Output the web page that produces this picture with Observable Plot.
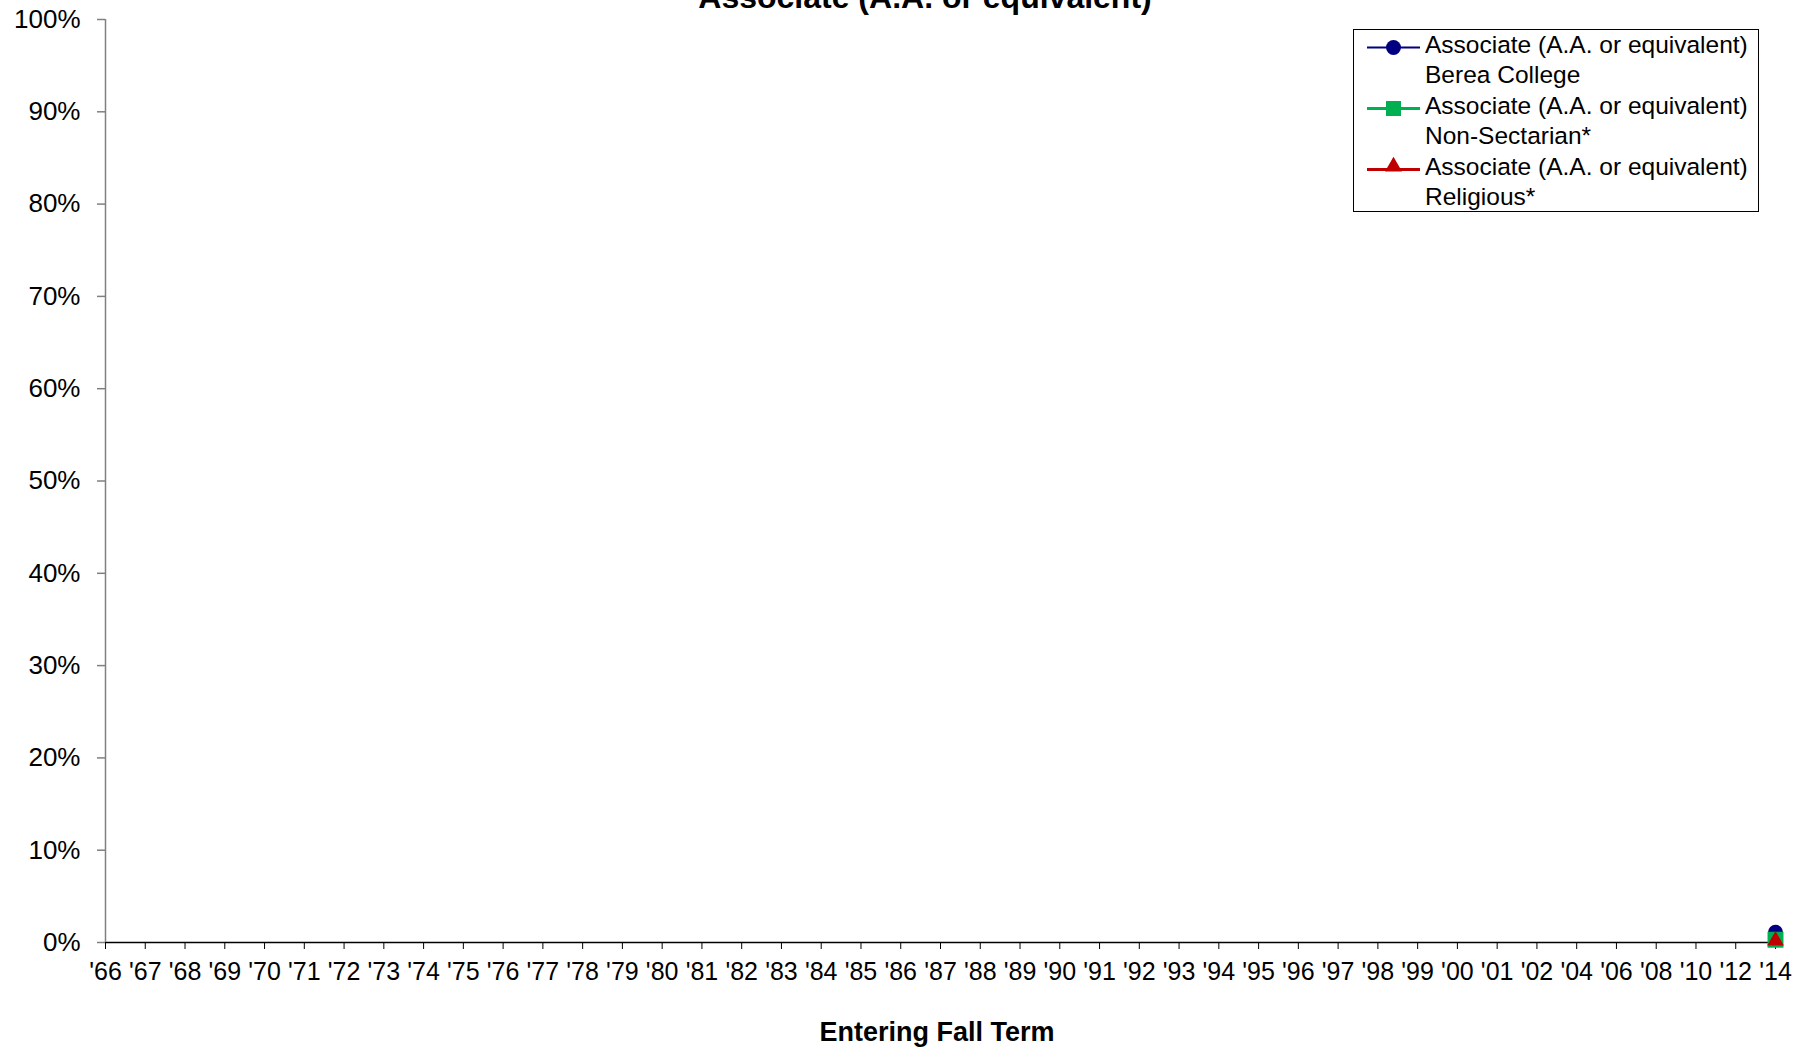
<!DOCTYPE html>
<html>
<head>
<meta charset="utf-8">
<script src="https://cdn.jsdelivr.net/npm/d3@7"></script>
<script src="https://cdn.jsdelivr.net/npm/@observablehq/plot@0.6"></script>
<style>
  html, body { margin: 0; padding: 0; background: #fff; }
  body { font-family: "Liberation Sans", Arial, sans-serif; color: #000; }
  #wrap { position: relative; width: 1812px; height: 1048px; overflow: hidden; }
  #title { position: absolute; left: 0; width: 1850px; top: -19px; text-align: center;
           font-weight: bold; font-size: 32px; line-height: 32px; white-space: nowrap; }
  #xtitle { position: absolute; left: 105px; width: 1664px; top: 1019px; text-align: center;
            font-weight: bold; font-size: 27px; line-height: 27px; white-space: nowrap; }
  #legend { position: absolute; left: 1353px; top: 29px; width: 406px; height: 183px;
            box-sizing: border-box; border: 1px solid #000; background: #fff; }
  .entry { position: absolute; left: 0; width: 404px; height: 60px; }
  .entry svg { position: absolute; left: 12px; top: 0; }
  .entry .txt { position: absolute; left: 71px; top: 0; font-size: 24.5px; line-height: 30px; white-space: nowrap; }
  #chart { position: absolute; left: 0; top: 0; }
</style>
</head>
<body>
<div id="wrap">
  <div id="chart"></div>
  <div id="title"></div>
  <div id="xtitle"></div>
  <div id="legend"></div>
</div>
<script>
// ---- Data ----
const chartTitle = "Associate (A.A. or equivalent)";
const xTitle = "Entering Fall Term";
const years = ["'66","'67","'68","'69","'70","'71","'72","'73","'74","'75","'76","'77","'78","'79",
  "'80","'81","'82","'83","'84","'85","'86","'87","'88","'89","'90","'91","'92","'93","'94","'95",
  "'96","'97","'98","'99","'00","'01","'02","'04","'06","'08","'10","'12","'14"];
// Only the 2014 value is reported; earlier years have no data.
const bereaValues        = [null,null,null,null,null,null,null,null,null,null,null,null,null,null,null,null,null,null,null,null,null,null,null,null,null,null,null,null,null,null,null,null,null,null,null,null,null,null,null,null,null,null,0.011];
const nonSectarianValues = [null,null,null,null,null,null,null,null,null,null,null,null,null,null,null,null,null,null,null,null,null,null,null,null,null,null,null,null,null,null,null,null,null,null,null,null,null,null,null,null,null,null,0.003];
const religiousValues    = [null,null,null,null,null,null,null,null,null,null,null,null,null,null,null,null,null,null,null,null,null,null,null,null,null,null,null,null,null,null,null,null,null,null,null,null,null,null,null,null,null,null,0.002];
const yTicks = [0,0.1,0.2,0.3,0.4,0.5,0.6,0.7,0.8,0.9,1.0];

const seriesNames = ["Associate (A.A. or equivalent)\nBerea College",
                     "Associate (A.A. or equivalent)\nNon-Sectarian*",
                     "Associate (A.A. or equivalent)\nReligious*"];
const seriesColors = ["#000080", "#00B050", "#C00000"];
const seriesSymbols = ["circle", "square", "triangle"];
const seriesWidths = [2, 3, 3];
const seriesR = [7.5, 9, 6.2];
const seriesValues = [bereaValues, nonSectarianValues, religiousValues];

// ---- Build table ----
const rows = [];
seriesValues.forEach((vals, s) => {
  vals.forEach((v, i) => rows.push({series: s, year: years[i], value: v}));
});

const marks = [
  Plot.ruleY([0], {stroke: "#000", strokeWidth: 1.5}),
  Plot.ruleX([years[0]], {y1: 0, y2: 1, stroke: "#808080", strokeWidth: 1.5}),
  Plot.axisY({ticks: yTicks, tickFormat: d3.format(".0%"), tickSize: 8, tickPadding: 17,
               fontSize: 26, stroke: "#808080", strokeWidth: 1.5, label: null}),
  Plot.axisX({tickSize: 7, tickPadding: 13, fontSize: 25, stroke: "#000", label: null})
];
seriesValues.forEach((vals, s) => {
  const d = rows.filter(r => r.series === s);
  marks.push(Plot.line(d, {x: "year", y: "value", stroke: seriesColors[s], strokeWidth: seriesWidths[s]}));
});
seriesValues.forEach((vals, s) => {
  const d = rows.filter(r => r.series === s && r.value != null);
  marks.push(Plot.dot(d, {x: "year", y: "value", symbol: seriesSymbols[s], r: seriesR[s],
                          fill: seriesColors[s], stroke: "none"}));
});

const chart = Plot.plot({
  width: 1812,
  height: 1048,
  marginLeft: 105,
  marginRight: 37,
  marginTop: 19,
  marginBottom: 106,
  style: {fontFamily: "'Liberation Sans', Arial, sans-serif", color: "#000", background: "#fff", overflow: "visible"},
  x: {type: "point", domain: years, padding: 0},
  y: {domain: [0, 1]},
  marks
});
document.getElementById("chart").appendChild(chart);
document.getElementById("title").textContent = chartTitle;
document.getElementById("xtitle").textContent = xTitle;

// ---- Legend ----
const legend = d3.select("#legend");
seriesNames.forEach((name, s) => {
  const e = legend.append("div").attr("class", "entry").style("top", (61 * s) + "px");
  const svg = e.append("svg").attr("width", 56).attr("height", 30);
  svg.append("line").attr("x1", 1).attr("x2", 54).attr("y1", 17.5).attr("y2", 17.5)
     .attr("stroke", seriesColors[s]).attr("stroke-width", seriesWidths[s]);
  const sym = {circle: d3.symbolCircle, square: d3.symbolSquare, triangle: d3.symbolTriangle}[seriesSymbols[s]];
  const size = {circle: Math.PI * 7.5 * 7.5, square: 15 * 15, triangle: 125}[seriesSymbols[s]];
  svg.append("path").attr("d", d3.symbol(sym, size)())
     .attr("transform", `translate(27.5,${seriesSymbols[s] === "triangle" ? 14.5 : 17.5})`)
     .attr("fill", seriesColors[s]);
  const t = e.append("div").attr("class", "txt");
  name.split("\n").forEach(line => t.append("div").text(line));
});
</script>
</body>
</html>
